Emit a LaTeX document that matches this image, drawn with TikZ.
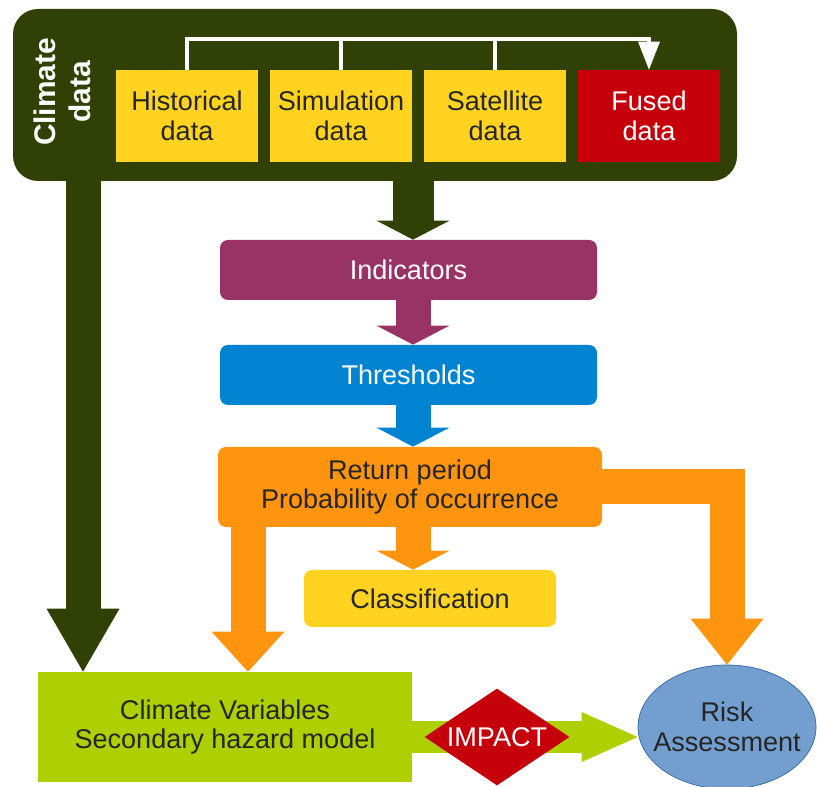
\documentclass[tikz,border=0pt]{standalone}
\usepackage{fontspec}
\setmainfont{Liberation Sans}
\usepackage{tikz}
\usetikzlibrary{arrows.meta,shapes.geometric,backgrounds}

\definecolor{darkolive}{HTML}{314004}
\definecolor{sunyellow}{HTML}{FFD320}
\definecolor{fusedred}{HTML}{C5000B}
\definecolor{indpurple}{HTML}{993366}
\definecolor{thrblue}{HTML}{0084D1}
\definecolor{retorange}{HTML}{FF950E}
\definecolor{varsgreen}{HTML}{AECF00}
\definecolor{riskblue}{HTML}{729FCF}
\definecolor{riskedge}{HTML}{3465A4}

\tikzset{
  panel/.style={fill=darkolive, rounded corners=0.5cm, minimum width=14.48cm, minimum height=3.44cm, inner sep=0pt},
  box/.style={rectangle, inner sep=0pt, align=center, text=black!85},
  databox/.style={box, fill=sunyellow, minimum width=2.84cm, minimum height=1.84cm},
  stepbox/.style={box, rounded corners=0.16cm, minimum width=7.54cm, minimum height=1.2cm},
  wire/.style={white, line width=0.08cm},
  flow/.style={line width=0.7cm, line join=miter, -{Triangle[width=1.46cm,length=#1,line width=0pt]}},
  flow/.default=0.38cm
}

\begin{document}
\begin{tikzpicture}[font=\fontsize{15.4}{17}\selectfont]
\useasboundingbox (0,0) rectangle (16.34,15.74);

% Climate data panel
\node[panel] (panel) at (7.5,13.84) {};
\node[rotate=90, align=center, text=white, font=\bfseries\fontsize{17}{20}\selectfont] (title) at (1.24,13.9) {Climate\\data};

% Data sources
\node[databox] (hist) at (3.74,13.42) {Historical\\data};
\node[databox] (sim) at (6.82,13.42) {Simulation\\data};
\node[databox] (sat) at (9.90,13.42) {Satellite\\data};
\node[databox, fill=fusedred, text=white] (fused) at (12.98,13.42) {Fused\\data};

% Fusion wires
\draw[wire, -{Triangle[width=0.44cm,length=0.56cm,line width=0pt]}] (hist.north) -- ++(0,0.62) -| (fused.north);
\draw[wire] (sim.north) -- ++(0,0.62);
\draw[wire] (sat.north) -- ++(0,0.62);

% Processing steps
\node[stepbox, fill=indpurple, text=white] (ind) at (8.17,10.34) {Indicators};
\node[stepbox, fill=thrblue, text=white] (thr) at (8.17,8.24) {Thresholds};
\node[stepbox, fill=retorange, minimum width=7.68cm, minimum height=1.6cm] (ret) at (8.2,6.0) {Return period\\Probability of occurrence};
\node[stepbox, fill=sunyellow, minimum width=5.04cm, minimum height=1.14cm] (cls) at (8.6,3.77) {Classification};

% Outputs
\node[box, fill=varsgreen, minimum width=7.48cm, minimum height=2.2cm] (vars) at (4.5,1.2) {Climate Variables\\Secondary hazard model};
\node[diamond, fill=fusedred, minimum width=2.9cm, minimum height=1.94cm, inner sep=0pt,
  label={[text=white]center:IMPACT}] (imp) at (9.94,1.0) {};
\node[ellipse, fill=riskblue, draw=riskedge, thin, minimum width=3.56cm, minimum height=2.48cm,
  label={[align=center, text=black!85]center:Risk\\Assessment}] (risk) at (14.54,1.2) {};

% Flow arrows
\coordinate (midcol) at (8.26,0);
\coordinate (leftcol) at (1.66,0);
\coordinate (retcol) at (4.96,0);

\begin{scope}[on background layer]
\draw[flow, line width=0.82cm, darkolive] (panel.south -| midcol) -- (ind.north -| midcol);
\draw[flow, indpurple] (ind.south -| midcol) -- (thr.north -| midcol);
\draw[flow, thrblue] (thr.south -| midcol) -- (ret.north -| midcol);
\draw[flow, retorange] (ret.south -| midcol) -- (cls.north -| midcol);
\draw[flow=0.8cm, retorange] (ret.south -| retcol) -- (vars.north -| retcol);
\draw[flow=0.92cm, retorange] (ret.east) -| (risk.north);
\draw[flow=1.26cm, darkolive] (panel.south -| leftcol) -- (vars.north -| leftcol);
\draw[line width=0.64cm, varsgreen, -{Triangle[width=1cm,length=1.12cm,line width=0pt]}] (vars.east |- imp) -- (imp -| risk.west);
\end{scope}
\end{tikzpicture}
\end{document}
